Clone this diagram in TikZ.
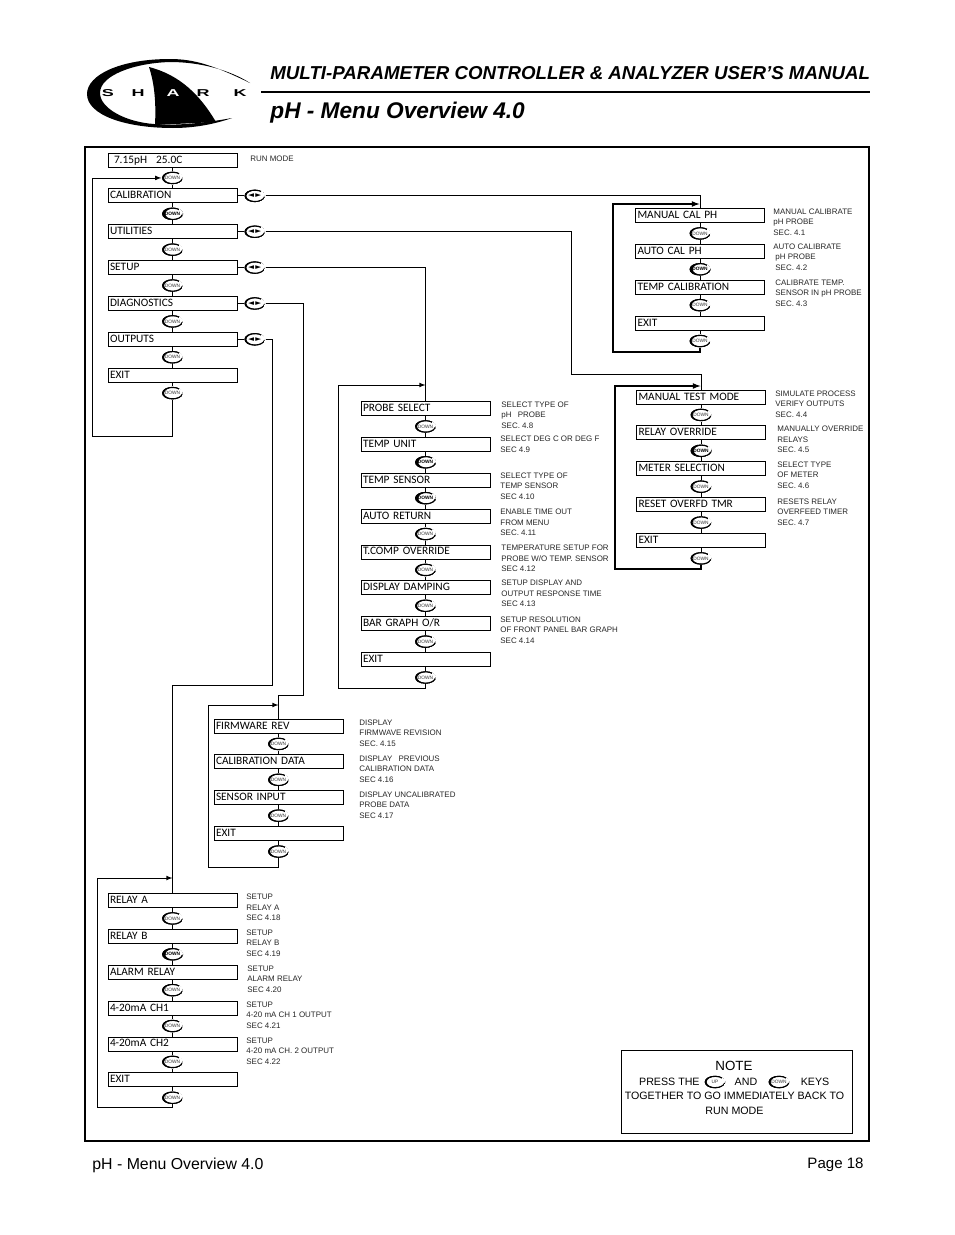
\documentclass[tikz,border=0pt]{standalone}
\usepackage{fontspec}
\setmainfont{Liberation Sans}
\newfontfamily\menufont[WordSpace=0.5]{Carlito}
\newfontfamily\arrowfont{DejaVu Sans}
\usetikzlibrary{calc,positioning,shapes.geometric}
\tikzset{
	menubox/.style={rectangle,draw,line width=0.6pt,text width=93.75pt,inner xsep=1.5pt,inner ysep=0pt,align=left,
		minimum height=10.5pt,text height=6.1pt,text depth=1.6pt,font=\menufont\fontsize{8.5}{9}\selectfont},
	keyshape/.style={ellipse,fill=white,inner sep=0pt,minimum width=15.5pt,minimum height=9.4pt,
		path picture={
			\draw[line width=0.9pt] (path picture bounding box.center) ++(40:7.4pt and 4.3pt) arc (40:350:7.4pt and 4.3pt);
			\fill[black,even odd rule] (path picture bounding box.center) ellipse (7.75pt and 4.7pt)
				([xshift=#1]path picture bounding box.center) ellipse (7pt and 4.1pt);
			\fill[white] ([xshift=5pt,yshift=0.6pt]path picture bounding box.center) rectangle ([xshift=9pt,yshift=5pt]path picture bounding box.center);
		}},
	downkey/.style={keyshape=0.7pt,font=\fontsize{3.6}{4}\selectfont,text=black!80},
	boldkey/.style={keyshape=1.5pt,font=\fontsize{3.6}{4}\selectfont\bfseries},
	sidekey/.style={keyshape=0.7pt,font=\arrowfont\fontsize{5.6}{6}\selectfont},
	noteline/.style={anchor=west,align=left,inner sep=0pt,font=\fontsize{5.97}{8}\selectfont,text=black!85},
	pressline/.style={inner sep=0pt,font=\fontsize{8}{11}\selectfont},
	loopline/.style={line width=1pt,->,>=latex},
	thinloop/.style={line width=0.6pt,->,>=latex},
	logoletter/.style={inner sep=0pt,xscale=1.8,font=\fontsize{7.5}{8}\selectfont\bfseries}
}
\begin{document}
\begin{tikzpicture}[x=0.75pt,y=-0.75pt,node distance=2.9pt,line width=0.6pt]
	\useasboundingbox (0,0) rectangle (954,1235);

	\fill (250,83) .. controls (215,66) and (195,59) .. (170,59) .. controls (120,59) and (87,75) .. (87,94)
		.. controls (87,115) and (125,128) .. (173,128) .. controls (195,128) and (215,124) .. (232,118)
		.. controls (205,123) and (175,126) .. (154,124) .. controls (125,122) and (100,108) .. (100,93)
		.. controls (100,75) and (135,63) .. (170,62) .. controls (200,62) and (230,70) .. (250,83) -- cycle;
	\fill (149,67) .. controls (180,75) and (200,95) .. (216,122) -- (155,125) .. controls (156,105) and (155,85) .. (149,67) -- cycle;
	\node (logos)[logoletter] at (108,93){S};
	\node (logoh)[logoletter] at (138,93){H};
	\node (logoa)[logoletter,text=white] at (173,93){A};
	\node (logor)[logoletter] at (203,93){R};
	\node (logok)[logoletter] at (240,93){K};

	\node (title)[anchor=west,inner sep=0pt,font=\fontsize{14.03}{18}\selectfont\bfseries\itshape] at (270,73.5){MULTI-PARAMETER CONTROLLER \& ANALYZER USER’S MANUAL};
	\coordinate (rulea) at (261,92);
	\coordinate (ruleb) at (870,92);
	\draw[line width=2.2pt] (rulea) -- (ruleb);
	\node (heading)[anchor=west,inner sep=0pt,font=\fontsize{17}{24}\selectfont\bfseries\itshape] at (270,113){pH - Menu Overview 4.0};
	\node (frame)[draw,line width=1.5pt,minimum width=588pt,minimum height=745.5pt,inner sep=0pt] at (477,644){};
	\node (footl)[anchor=west,inner sep=0pt,font=\fontsize{11.9}{14}\selectfont] at (92,1165){pH - Menu Overview 4.0};
	\node (footr)[anchor=east,inner sep=0pt,font=\fontsize{11.3}{14}\selectfont] at (864,1165){Page 18};

	\node (run)[menubox] at (172.5,160){\hspace{3pt}7.15pH\hspace{4pt} 25.0C};
	\node (runk)[downkey,below=of run]{DOWN};
	\node (cal)[menubox,below=of runk]{CALIBRATION};
	\node (calk)[boldkey,below=of cal]{DOWN};
	\node (util)[menubox,below=of calk]{UTILITIES};
	\node (utilk)[downkey,below=of util]{DOWN};
	\node (set)[menubox,below=of utilk]{SETUP};
	\node (setk)[downkey,below=of set]{DOWN};
	\node (diag)[menubox,below=of setk]{DIAGNOSTICS};
	\node (diagk)[downkey,below=of diag]{DOWN};
	\node (out)[menubox,below=of diagk]{OUTPUTS};
	\node (outk)[downkey,below=of out]{DOWN};
	\node (exit)[menubox,below=of outk]{EXIT};
	\node (exitk)[downkey,below=of exit]{DOWN};
	\node (lrcal)[sidekey,right=5pt of cal]{◄\,►};
	\node (lrutil)[sidekey,right=5pt of util]{◄\,►};
	\node (lrset)[sidekey,right=5pt of set]{◄\,►};
	\node (lrdiag)[sidekey,right=5pt of diag]{◄\,►};
	\node (lrout)[sidekey,right=5pt of out]{◄\,►};
	\draw (run) -- (runk) -- (cal) -- (calk) -- (util) -- (utilk) -- (set) -- (setk) -- (diag) -- (diagk) -- (out) -- (outk) -- (exit) -- (exitk);
	\draw (cal) -- (lrcal);
	\draw (util) -- (lrutil);
	\draw (set) -- (lrset);
	\draw (diag) -- (lrdiag);
	\draw (out) -- (lrout);
	\coordinate (mainloop) at (92,436);
	\draw[thinloop] (exitk) |- (mainloop) |- (runk);
	\node (runnote)[noteline] at (250,159){RUN MODE};

	\node (mancal)[menubox] at (700,215.5){MANUAL CAL PH};
	\node (mancalk)[downkey,below=of mancal]{DOWN};
	\node (autocal)[menubox,below=of mancalk]{AUTO CAL PH};
	\node (autocalk)[boldkey,below=of autocal]{DOWN};
	\node (tempcal)[menubox,below=of autocalk]{TEMP CALIBRATION};
	\node (tempcalk)[downkey,below=of tempcal]{DOWN};
	\node (calexit)[menubox,below=of tempcalk]{EXIT};
	\node (calexitk)[downkey,below=of calexit]{DOWN};
	\draw (mancal) -- (mancalk) -- (autocal) -- (autocalk) -- (tempcal) -- (tempcalk) -- (calexit) -- (calexitk);
	\draw (lrcal) -| (mancal);
	\coordinate (calloop) at (613,352);
	\coordinate (caltip) at (699.5,204);
	\draw[loopline] (calexitk) |- (calloop) |- (caltip);
	\node (mannote)[noteline] at (773,222){MANUAL CALIBRATE\\pH PROBE\\SEC. 4.1};
	\node (autonote)[noteline] at (773,257){AUTO CALIBRATE\\\hspace*{1.5pt}pH PROBE\\\hspace*{1.5pt}SEC. 4.2};
	\node (tempcalnote)[noteline] at (775,293){CALIBRATE TEMP.\\SENSOR IN pH PROBE\\SEC. 4.3};

	\node (mantest)[menubox] at (701,397){MANUAL TEST MODE};
	\node (mantestk)[downkey,below=of mantest]{DOWN};
	\node (relover)[menubox,below=of mantestk]{RELAY OVERRIDE};
	\node (reloverk)[boldkey,below=of relover]{DOWN};
	\node (meter)[menubox,below=of reloverk]{METER SELECTION};
	\node (meterk)[downkey,below=of meter]{DOWN};
	\node (reset)[menubox,below=of meterk]{RESET OVERFD TMR};
	\node (resetk)[downkey,below=of reset]{DOWN};
	\node (testexit)[menubox,below=of resetk]{EXIT};
	\node (testexitk)[downkey,below=of testexit]{DOWN};
	\draw (mantest) -- (mantestk) -- (relover) -- (reloverk) -- (meter) -- (meterk) -- (reset) -- (resetk) -- (testexit) -- (testexitk);
	\coordinate (utilturn) at (571,374);
	\draw (lrutil) -| (utilturn) -| (mantest);
	\coordinate (testloop) at (615,569);
	\coordinate (testtip) at (700.5,386);
	\draw[loopline] (testexitk) |- (testloop) |- (testtip);
	\node (testnote)[noteline] at (775,404){SIMULATE PROCESS\\VERIFY OUTPUTS\\SEC. 4.4};
	\node (relnote)[noteline] at (777,439.5){MANUALLY OVERRIDE\\RELAYS\\SEC. 4.5};
	\node (meternote)[noteline] at (777,475){SELECT TYPE\\OF METER\\SEC. 4.6};
	\node (resetnote)[noteline] at (777,512){RESETS RELAY\\OVERFEED TIMER\\SEC. 4.7};

	\node (probe)[menubox] at (425.5,408.5){PROBE SELECT};
	\node (probek)[downkey,below=of probe]{DOWN};
	\node (unit)[menubox,below=of probek]{TEMP UNIT};
	\node (unitk)[boldkey,below=of unit]{DOWN};
	\node (sensor)[menubox,below=of unitk]{TEMP SENSOR};
	\node (sensork)[boldkey,below=of sensor]{DOWN};
	\node (auto)[menubox,below=of sensork]{AUTO RETURN};
	\node (autok)[downkey,below=of auto]{DOWN};
	\node (tcomp)[menubox,below=of autok]{T.COMP OVERRIDE};
	\node (tcompk)[downkey,below=of tcomp]{DOWN};
	\node (damp)[menubox,below=of tcompk]{DISPLAY DAMPING};
	\node (dampk)[downkey,below=of damp]{DOWN};
	\node (bar)[menubox,below=of dampk]{BAR GRAPH O/R};
	\node (bark)[downkey,below=of bar]{DOWN};
	\node (setexit)[menubox,below=of bark]{EXIT};
	\node (setexitk)[downkey,below=of setexit]{DOWN};
	\draw (probe) -- (probek) -- (unit) -- (unitk) -- (sensor) -- (sensork) -- (auto) -- (autok) -- (tcomp) -- (tcompk) -- (damp) -- (dampk) -- (bar) -- (bark) -- (setexit) -- (setexitk);
	\draw (lrset) -| (probe);
	\coordinate (setloop) at (338,688);
	\coordinate (settip) at (425.5,385);
	\draw[thinloop] (setexitk) |- (setloop) |- (settip);
	\node (probenote)[noteline] at (501,415){SELECT TYPE OF\\pH\hspace{3pt} PROBE\\SEC. 4.8};
	\node (unitnote)[noteline] at (500,444.5){SELECT DEG C OR DEG F\\SEC 4.9};
	\node (sensornote)[noteline] at (500,486){SELECT TYPE OF\\TEMP SENSOR\\SEC 4.10};
	\node (autonotes)[noteline] at (500,522.5){ENABLE TIME OUT\\FROM MENU\\SEC. 4.11};
	\node (tcompnote)[noteline] at (501,558.5){TEMPERATURE SETUP FOR\\PROBE W/O TEMP. SENSOR\\SEC 4.12};
	\node (dampnote)[noteline] at (501,593.5){SETUP DISPLAY AND\\OUTPUT RESPONSE TIME\\SEC 4.13};
	\node (barnote)[noteline] at (500,630){SETUP RESOLUTION\\OF FRONT PANEL BAR GRAPH\\SEC 4.14};

	\node (firm)[menubox] at (278.5,726){FIRMWARE REV};
	\node (firmk)[downkey,below=of firm]{DOWN};
	\node (caldata)[menubox,below=of firmk]{CALIBRATION DATA};
	\node (caldatak)[downkey,below=of caldata]{DOWN};
	\node (input)[menubox,below=of caldatak]{SENSOR INPUT};
	\node (inputk)[downkey,below=of input]{DOWN};
	\node (diagexit)[menubox,below=of inputk]{EXIT};
	\node (diagexitk)[downkey,below=of diagexit]{DOWN};
	\draw (firm) -- (firmk) -- (caldata) -- (caldatak) -- (input) -- (inputk) -- (diagexit) -- (diagexitk);
	\coordinate (diagturn) at (303,695);
	\draw (lrdiag) -| (diagturn) -| (firm);
	\coordinate (diagloop) at (208,867);
	\coordinate (diagtip) at (278.5,705);
	\draw[thinloop] (diagexitk) |- (diagloop) |- (diagtip);
	\node (firmnote)[noteline] at (359,733){DISPLAY\\FIRMWAVE REVISION\\SEC. 4.15};
	\node (caldatanote)[noteline] at (359,769){DISPLAY\hspace{3pt} PREVIOUS\\CALIBRATION DATA\\SEC 4.16};
	\node (inputnote)[noteline] at (359,805){DISPLAY UNCALIBRATED\\PROBE DATA\\SEC 4.17};

	\node (relaya)[menubox] at (172.5,900.5){RELAY A};
	\node (relayak)[downkey,below=of relaya]{DOWN};
	\node (relayb)[menubox,below=of relayak]{RELAY B};
	\node (relaybk)[boldkey,below=of relayb]{DOWN};
	\node (alarm)[menubox,below=of relaybk]{ALARM RELAY};
	\node (alarmk)[downkey,below=of alarm]{DOWN};
	\node (cha)[menubox,below=of alarmk]{4-20mA CH1};
	\node (chak)[downkey,below=of cha]{DOWN};
	\node (chb)[menubox,below=of chak]{4-20mA CH2};
	\node (chbk)[downkey,below=of chb]{DOWN};
	\node (outexit)[menubox,below=of chbk]{EXIT};
	\node (outexitk)[downkey,below=of outexit]{DOWN};
	\draw (relaya) -- (relayak) -- (relayb) -- (relaybk) -- (alarm) -- (alarmk) -- (cha) -- (chak) -- (chb) -- (chbk) -- (outexit) -- (outexitk);
	\coordinate (outturn) at (272,685);
	\draw (lrout) -| (outturn) -| (relaya);
	\coordinate (outloop) at (97,1107);
	\coordinate (outtip) at (172.5,878);
	\draw[thinloop] (outexitk) |- (outloop) |- (outtip);
	\node (relayanote)[noteline] at (246,907.5){SETUP\\RELAY A\\SEC 4.18};
	\node (relaybnote)[noteline] at (246,943){SETUP\\RELAY B\\SEC 4.19};
	\node (alarmnote)[noteline] at (247,979){SETUP\\ALARM RELAY\\SEC 4.20};
	\node (chanote)[noteline] at (246,1015){SETUP\\4-20 mA CH 1 OUTPUT\\SEC 4.21};
	\node (chbnote)[noteline] at (246,1051){SETUP\\4-20 mA CH. 2 OUTPUT\\SEC 4.22};

	\node (notebox)[draw,minimum width=173.25pt,minimum height=62.25pt,inner sep=0pt] at (736.5,1091.5){};
	\node (notehead)[inner sep=0pt,font=\fontsize{10}{12}\selectfont] at (734,1066){NOTE};
	\node (press)[pressline,anchor=east] at (700,1082){PRESS THE};
	\node (upkey)[downkey] at (715,1082){UP};
	\node (noteand)[pressline] at (746,1082){AND};
	\node (downk)[downkey] at (779,1082){DOWN};
	\node (notekeys)[pressline] at (815,1082){KEYS};
	\node (togeth)[pressline] at (734.5,1096){TOGETHER TO GO IMMEDIATELY BACK TO};
	\node (runmode)[pressline] at (734.5,1111){RUN MODE};
\end{tikzpicture}
\end{document}
